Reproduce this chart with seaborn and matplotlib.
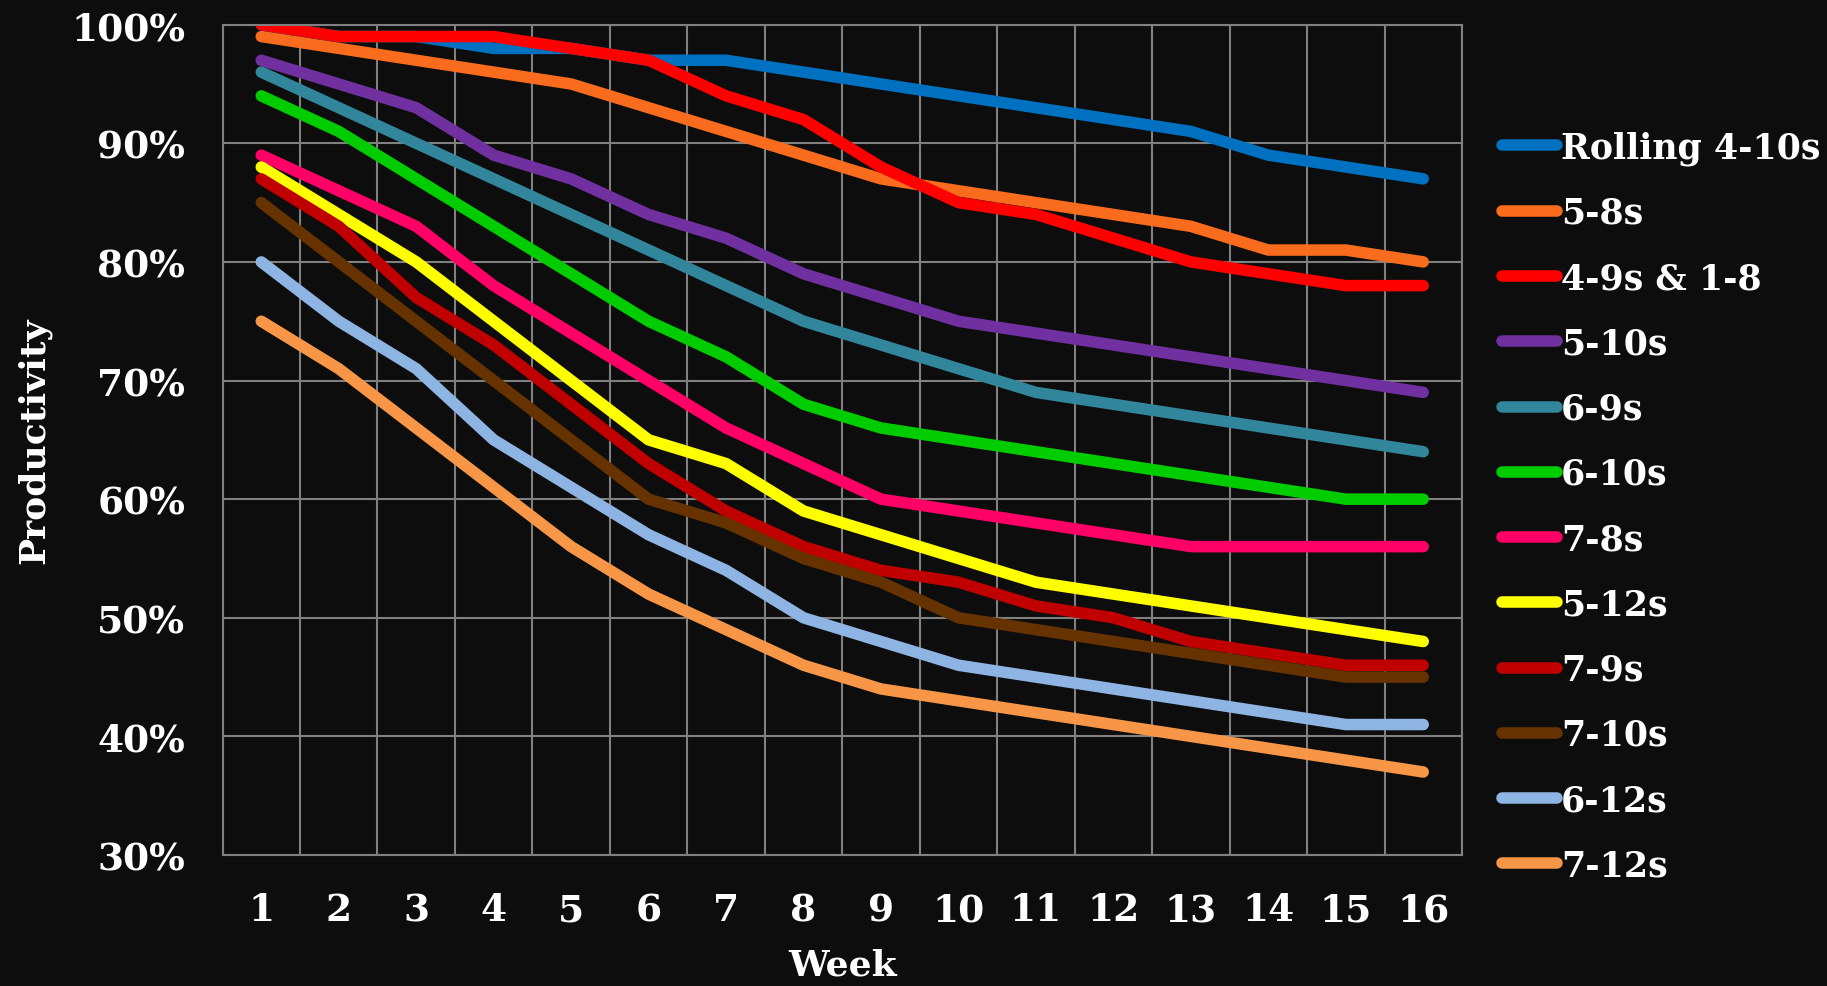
import numpy as np
import pandas as pd
import seaborn as sns
import matplotlib.pyplot as plt
from matplotlib.lines import Line2D
from matplotlib.ticker import PercentFormatter

# productivity by week for each shift pattern (percent)
weeks = list(range(1, 17))
rolling_4_10s = [100, 99, 99, 98, 98, 97, 97, 96, 95, 94, 93, 92, 91, 89, 88, 87]
s5_8s = [99, 98, 97, 96, 95, 93, 91, 89, 87, 86, 85, 84, 83, 81, 81, 80]
s4_9s_1_8 = [100, 99, 99, 99, 98, 97, 94, 92, 88, 85, 84, 82, 80, 79, 78, 78]
s5_10s = [97, 95, 93, 89, 87, 84, 82, 79, 77, 75, 74, 73, 72, 71, 70, 69]
s6_9s = [96, 93, 90, 87, 84, 81, 78, 75, 73, 71, 69, 68, 67, 66, 65, 64]
s6_10s = [94, 91, 87, 83, 79, 75, 72, 68, 66, 65, 64, 63, 62, 61, 60, 60]
s7_8s = [89, 86, 83, 78, 74, 70, 66, 63, 60, 59, 58, 57, 56, 56, 56, 56]
s5_12s = [88, 84, 80, 75, 70, 65, 63, 59, 57, 55, 53, 52, 51, 50, 49, 48]
s7_9s = [87, 83, 77, 73, 68, 63, 59, 56, 54, 53, 51, 50, 48, 47, 46, 46]
s7_10s = [85, 80, 75, 70, 65, 60, 58, 55, 53, 50, 49, 48, 47, 46, 45, 45]
s6_12s = [80, 75, 71, 65, 61, 57, 54, 50, 48, 46, 45, 44, 43, 42, 41, 41]
s7_12s = [75, 71, 66, 61, 56, 52, 49, 46, 44, 43, 42, 41, 40, 39, 38, 37]

names = ["Rolling 4-10s", "5-8s", "4-9s & 1-8", "5-10s", "6-9s", "6-10s",
         "7-8s", "5-12s", "7-9s", "7-10s", "6-12s", "7-12s"]
series = [rolling_4_10s, s5_8s, s4_9s_1_8, s5_10s, s6_9s, s6_10s,
          s7_8s, s5_12s, s7_9s, s7_10s, s6_12s, s7_12s]
colors = ["#0070C0", "#F96B1D", "#FF0000", "#7030A0", "#31869B", "#00CC00",
          "#FF0066", "#FFFF00", "#C00000", "#663300", "#8DB4E2", "#F79646"]

df = pd.DataFrame({"Week": weeks})
for n, s in zip(names, series):
    df[n] = s
long = df.melt(id_vars="Week", var_name="Schedule", value_name="Productivity")

bg = "#0D0D0D"
grid_c = "#808080"
lw = 8.3
sns.set_theme(style="dark", rc={"figure.facecolor": bg, "axes.facecolor": bg,
                                "savefig.facecolor": bg})
plt.rcParams["font.family"] = ["DejaVu Serif"]
plt.rcParams["font.weight"] = "bold"

fig = plt.figure(figsize=(18.27, 9.87), dpi=100)
ax = fig.add_axes([0.1218, 0.1327, 0.8002 - 0.1218, 0.974 - 0.1327])

sns.lineplot(data=long, x="Week", y="Productivity", hue="Schedule",
             hue_order=names, palette=colors, linewidth=lw,
             solid_capstyle="round", solid_joinstyle="round",
             legend=False, ax=ax)

ax.set_xlim(0.5, 16.5)
ax.set_ylim(30, 100)
ax.set_yticks(np.arange(30, 101, 10))
ax.yaxis.set_major_formatter(PercentFormatter(decimals=0))

# category boundaries carry the grid; labels sit on minor ticks
ax.set_xticks(np.arange(0.5, 17, 1))
ax.set_xticklabels([])
ax.set_xticks(weeks, minor=True)
ax.set_xticklabels([str(w) for w in weeks], minor=True)

ax.grid(True, which="major", color=grid_c, linewidth=1.5)
ax.grid(False, which="minor")
for sp in ax.spines.values():
    sp.set_visible(True)
    sp.set_color(grid_c)
    sp.set_linewidth(1.5)

ax.tick_params(axis="both", which="major", direction="out", length=9,
               width=1.5, color=grid_c, labelcolor="white", labelsize=27)
ax.tick_params(axis="y", which="major", pad=18)
ax.tick_params(axis="x", which="minor", length=0, pad=26,
               labelcolor="white", labelsize=27)
for lab in ax.get_xticklabels(minor=True) + ax.get_yticklabels():
    lab.set_fontweight("bold")

ax.set_xlabel("Week", color="white", fontsize=26, fontweight="bold", labelpad=14)
ax.set_ylabel("Productivity", color="white", fontsize=26, fontweight="bold",
              labelpad=14)

handles = [Line2D([], [], color=c, linewidth=lw, solid_capstyle="round")
           for c in colors]
leg = fig.legend(handles, names, loc="center left",
                 bbox_to_anchor=(0.822, 0.486), frameon=False, fontsize=25,
                 handlelength=1.6, handletextpad=0.1, labelspacing=0.9,
                 borderpad=0, borderaxespad=0)
for t in leg.get_texts():
    t.set_color("white")
    t.set_fontweight("bold")

fig.savefig("out.png", dpi=100, facecolor=bg)
